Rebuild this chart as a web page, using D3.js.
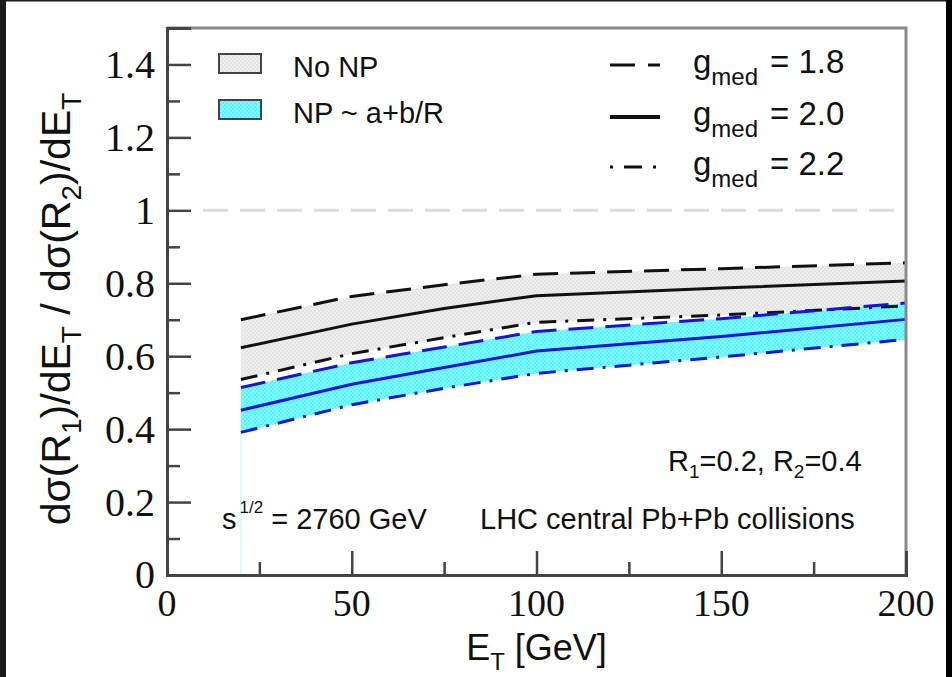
<!DOCTYPE html>
<html>
<head>
<meta charset="utf-8">
<script src="https://cdn.jsdelivr.net/npm/d3@7/dist/d3.min.js"></script>
<style>
  html, body { margin: 0; padding: 0; background: #fff; }
  svg { display: block; }
  .sans { font-family: "Liberation Sans", Arial, sans-serif; fill: #111; }
  .serif { font-family: "Liberation Serif", "Times New Roman", serif; fill: #111; }
</style>
</head>
<body>
<svg id="chart" width="952" height="677"></svg>
<script>
// Jet cross-section ratio R1=0.2 / R2=0.4 vs E_T
const ET = [20, 50, 75, 100, 150, 200];

// No non-perturbative corrections
const noNP_g18 = [0.700, 0.764, 0.796, 0.825, 0.840, 0.856];
const noNP_g20 = [0.623, 0.688, 0.731, 0.766, 0.787, 0.806];
const noNP_g22 = [0.536, 0.607, 0.651, 0.693, 0.713, 0.738];

// With NP ~ a + b/R
const np_g18 = [0.514, 0.582, 0.625, 0.668, 0.703, 0.746];
const np_g20 = [0.452, 0.523, 0.569, 0.614, 0.654, 0.701];
const np_g22 = [0.391, 0.467, 0.512, 0.553, 0.598, 0.646];

const xTicksMajor = [0, 50, 100, 150, 200];
const xTicksMinor = [25, 75, 125, 175];
const yTicksMajor = [0, 0.2, 0.4, 0.6, 0.8, 1, 1.2, 1.4];
const yTicksMinor = [0.1, 0.3, 0.5, 0.7, 0.9, 1.1, 1.3];

const svg = d3.select("#chart");
const W = 952, H = 677;
const mLeft = 167, mRight = 906, mTop = 28, mBottom = 575;

const x = d3.scaleLinear().domain([0, 200]).range([mLeft, mRight]);
const y = d3.scaleLinear().domain([0, 1.5]).range([mBottom, mTop]);

// dotted textures for the bands
const defs = svg.append("defs");
function texture(id, base, dot) {
  const p = defs.append("pattern").attr("id", id)
    .attr("patternUnits", "userSpaceOnUse").attr("width", 4).attr("height", 4);
  p.append("rect").attr("width", 4).attr("height", 4).attr("fill", base);
  p.append("rect").attr("x", 0).attr("y", 0).attr("width", 2).attr("height", 2).attr("fill", dot);
  p.append("rect").attr("x", 2).attr("y", 2).attr("width", 2).attr("height", 2).attr("fill", dot);
}
texture("texGray", "#efefef", "#e2e2e2");
texture("texCyan", "#7ffcff", "#5ef2ff");

// reference line at ratio = 1
svg.append("line")
  .attr("x1", 203).attr("x2", mRight)
  .attr("y1", y(1)).attr("y2", y(1))
  .attr("stroke", "#dcdcdc").attr("stroke-width", 3)
  .attr("stroke-dasharray", "25,12");

const band = d3.area()
  .x((d, i) => x(ET[i]))
  .y0(d => y(d[0]))
  .y1(d => y(d[1]));

svg.append("path")
  .datum(noNP_g18.map((v, i) => [noNP_g22[i], v]))
  .attr("d", band).attr("fill", "url(#texGray)");

svg.append("path")
  .datum(np_g18.map((v, i) => [np_g22[i], v]))
  .attr("d", band).attr("fill", "url(#texCyan)");

// thin edge of the NP band down to the axis
svg.append("line")
  .attr("x1", x(ET[0])).attr("x2", x(ET[0]))
  .attr("y1", y(np_g22[0])).attr("y2", y(0))
  .attr("stroke", "#c8f8ff").attr("stroke-width", 1.2);

const line = d3.line().x((d, i) => x(ET[i])).y(d => y(d));
const dashed = "25,12", dashDot = "17,9,3,9";

const curves = [
  { v: noNP_g18, c: "#111", dash: dashed },
  { v: noNP_g20, c: "#111", dash: null },
  { v: noNP_g22, c: "#111", dash: dashDot },
  { v: np_g18, c: "#1414e0", dash: dashed },
  { v: np_g20, c: "#1414e0", dash: null },
  { v: np_g22, c: "#1414e0", dash: dashDot }
];
curves.forEach(s => {
  svg.append("path").datum(s.v)
    .attr("d", line)
    .attr("fill", "none")
    .attr("stroke", s.c)
    .attr("stroke-width", 3)
    .attr("stroke-dasharray", s.dash);
});

// frame
svg.append("path")
  .attr("d", `M${mLeft},${mTop}H${mRight}V${mBottom}`)
  .attr("fill", "none").attr("stroke", "#8a8a8a").attr("stroke-width", 3);

// axes with inward ticks
const gx = svg.append("g").attr("transform", `translate(0,${mBottom})`);
gx.call(d3.axisBottom(x).tickValues(xTicksMajor).tickSize(-24).tickFormat(""));
gx.call(g => g.selectAll(".tick").filter(d => d === 0 || d === 200).select("line").remove());
const gxm = svg.append("g").attr("transform", `translate(0,${mBottom})`);
gxm.call(d3.axisBottom(x).tickValues(xTicksMinor).tickSize(-13).tickFormat(""));
gxm.select(".domain").remove();

const gy = svg.append("g").attr("transform", `translate(${mLeft},0)`);
gy.call(d3.axisLeft(y).tickValues(yTicksMajor).tickSize(-24).tickFormat(""));
gy.call(g => g.selectAll(".tick").filter(d => d === 0).select("line").remove());
const gym = svg.append("g").attr("transform", `translate(${mLeft},0)`);
gym.call(d3.axisLeft(y).tickValues(yTicksMinor).tickSize(-13).tickFormat(""));
gym.select(".domain").remove();

svg.selectAll(".domain").attr("stroke", "#444").attr("stroke-width", 3);
svg.selectAll(".tick line").attr("stroke", "#444").attr("stroke-width", 2.5);

// tick labels
svg.append("g").selectAll("text").data(xTicksMajor).join("text")
  .attr("class", "serif")
  .attr("x", d => x(d)).attr("y", 616)
  .attr("text-anchor", "middle")
  .attr("font-size", 38)
  .text(d => d);

svg.append("g").selectAll("text").data(yTicksMajor).join("text")
  .attr("class", "serif")
  .attr("x", 155).attr("y", d => d === 0 ? y(d) + 13 : y(d) + 14)
  .attr("text-anchor", "end")
  .attr("font-size", 40)
  .text(d => d3.format("~g")(d));

// axis titles
const xt = svg.append("text").attr("class", "sans")
  .attr("x", x(100)).attr("y", 660)
  .attr("text-anchor", "middle").attr("font-size", 36);
xt.append("tspan").text("E");
xt.append("tspan").attr("font-size", 24).attr("dy", 10).text("T");
xt.append("tspan").attr("dy", -10).text(" [GeV]");

const yt = svg.append("text").attr("class", "sans")
  .attr("transform", `translate(70,${(90 + 528) / 2}) rotate(-90)`)
  .attr("text-anchor", "middle").attr("font-size", 41);
[["dσ(R", 0], ["1", 1], [")/dE", -1], ["T", 1], [" / dσ(R", -1], ["2", 1], [")/dE", -1], ["T", 1]]
  .forEach(([t, s]) => {
    const ts = yt.append("tspan").text(t);
    if (s === 1) ts.attr("font-size", 28).attr("dy", 11);
    if (s === -1) ts.attr("dy", -11);
  });

// band legend
const bandLegend = [
  { label: "No NP", fill: "url(#texGray)", y: 54 },
  { label: "NP ~ a+b/R", fill: "url(#texCyan)", y: 100 }
];
bandLegend.forEach(d => {
  svg.append("rect")
    .attr("x", 219).attr("y", d.y).attr("width", 42).attr("height", 19)
    .attr("fill", d.fill).attr("stroke", "#444").attr("stroke-width", 2);
  svg.append("text").attr("class", "sans")
    .attr("x", 293).attr("y", d.y + 23)
    .attr("font-size", 29).text(d.label);
});

// coupling legend
const gLegend = [
  { val: "1.8", dash: "25,13", y: 65 },
  { val: "2.0", dash: null, y: 117 },
  { val: "2.2", dash: "3,11,18,11", y: 167 }
];
gLegend.forEach(d => {
  svg.append("line")
    .attr("x1", 610).attr("x2", 660).attr("y1", d.y).attr("y2", d.y)
    .attr("stroke", "#111").attr("stroke-width", d.dash ? 3 : 4)
    .attr("stroke-dasharray", d.dash);
  const t = svg.append("text").attr("class", "sans")
    .attr("x", 693).attr("y", d.y + 8).attr("font-size", 33);
  t.append("tspan").text("g");
  t.append("tspan").attr("font-size", 24).attr("dy", 12).text("med");
  t.append("tspan").attr("dy", -12).attr("x", 770).text("= " + d.val);
});

// annotations
const r = svg.append("text").attr("class", "sans")
  .attr("x", 668).attr("y", 471).attr("font-size", 29);
r.append("tspan").text("R");
r.append("tspan").attr("font-size", 19).attr("dy", 7).text("1");
r.append("tspan").attr("dy", -7).text("=0.2, R");
r.append("tspan").attr("font-size", 19).attr("dy", 7).text("2");
r.append("tspan").attr("dy", -7).text("=0.4");

const s = svg.append("text").attr("class", "sans")
  .attr("x", 222).attr("y", 529).attr("font-size", 29);
s.append("tspan").text("s");
s.append("tspan").attr("font-size", 17).attr("dy", -16).attr("dx", 3).text("1/2");
s.append("tspan").attr("dy", 16).text(" = 2760 GeV");

svg.append("text").attr("class", "sans")
  .attr("x", 480).attr("y", 529).attr("font-size", 29)
  .text("LHC central Pb+Pb collisions");

// dark outer edges
svg.append("rect").attr("x", 0).attr("y", 0).attr("width", 6).attr("height", H).attr("fill", "#1a1a1a");
svg.append("rect").attr("x", 0).attr("y", 0).attr("width", W).attr("height", 1.5).attr("fill", "#1a1a1a");
svg.append("rect").attr("x", 946).attr("y", 0).attr("width", 6).attr("height", H).attr("fill", "#000");
</script>
</body>
</html>
